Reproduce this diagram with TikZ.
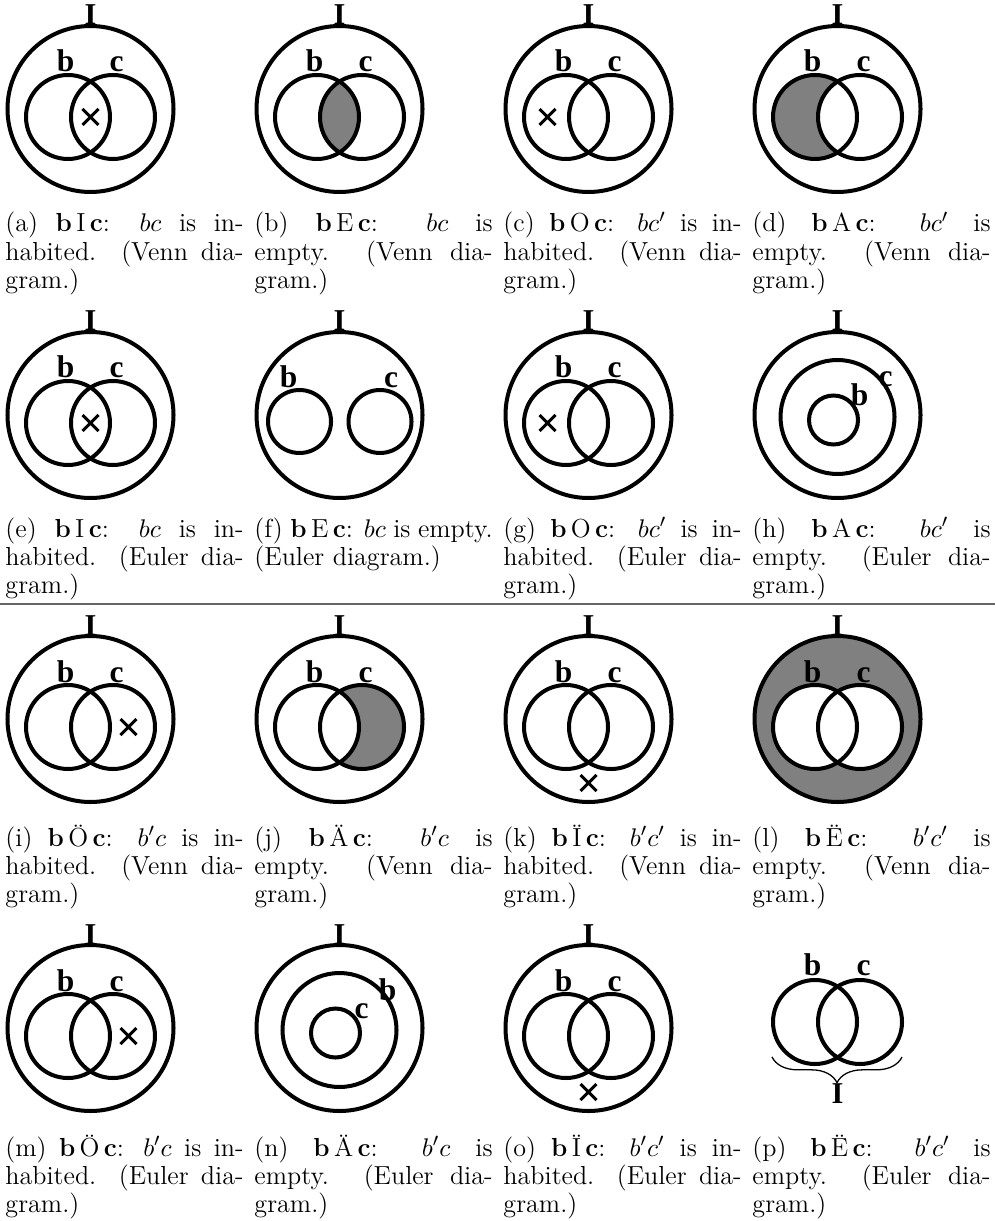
\documentclass[tikz,border=0pt]{standalone}
\usepackage{fontspec}
\usetikzlibrary{decorations.pathreplacing}
\newfontfamily\lblfont{Liberation Serif}
\definecolor{shadegray}{gray}{0.5}
\definecolor{rulegray}{gray}{0.4}
\newcommand\rel[1]{\textbf{b}\,#1\,\textbf{c}}
\newcommand\VOuter[1]{\draw[circ] (0,0) circle (83); \node[ilbl] (#1I) at (0,-84) {I};}
\newcommand\VPair[1]{\draw[circ] (-22.5,8) circle (42); \draw[circ] (22.5,8) circle (42);
  \node[lbl] (#1b) at (-25,-37) {b}; \node[lbl] (#1c) at (26,-37) {c};}
\begin{document}
\begin{tikzpicture}[x=0.4292pt,y=-0.4292pt,
  circ/.style={line width=1.72pt},
  xmark/.style={line width=1.3pt},
  lbl/.style={font=\lblfont\bfseries\fontsize{13.5}{13.5}\selectfont, inner sep=0pt, anchor=base},
  ilbl/.style={font=\lblfont\bfseries\fontsize{13}{13}\selectfont, inner sep=0pt, anchor=base},
  captext/.style={anchor=base west, text width=102.2pt, align=justify, inner sep=0pt, font=\fontsize{11.2}{11.2}\selectfont},
  shaded/.style={fill=shadegray},
  xm/.pic={\draw[xmark] (-8,-8) -- (8,8) (-8,8) -- (8,-8);}
]
\useasboundingbox (0,0) rectangle (995,1221);

% ---------------- Row 1 ----------------
\begin{scope}[shift={(90.5,109)}]
  \VOuter{a}\VPair{a}
  \pic at (0,8) {xm};
\end{scope}
\begin{scope}[shift={(339.5,109)}]
  \begin{scope}\clip (-22.5,8) circle (42); \fill[shaded] (22.5,8) circle (42);\end{scope}
  \VOuter{b}\VPair{b}
\end{scope}
\begin{scope}[shift={(588.5,109)}]
  \VOuter{c}\VPair{c}
  \pic at (-41,8) {xm};
\end{scope}
\begin{scope}[shift={(837.5,109)}]
  \fill[shaded] (-22.5,8) circle (42); \fill[white] (22.5,8) circle (42);
  \VOuter{d}\VPair{d}
\end{scope}
\node[captext] (capa) at (5,232) {(a) \rel{I}: $bc$ is in-\linebreak habited. (Venn dia-\linebreak gram.)};
\node[captext] (capb) at (254,232) {(b) \rel{E}: $bc$ is\linebreak empty. (Venn dia-\linebreak gram.)};
\node[captext] (capc) at (503,232) {(c) \rel{O}: $bc'$ is in-\linebreak habited. (Venn dia-\linebreak gram.)};
\node[captext] (capd) at (752,232) {(d) \rel{A}: $bc'$ is\linebreak empty. (Venn dia-\linebreak gram.)};

% ---------------- Row 2 ----------------
\begin{scope}[shift={(90.5,415)}]
  \VOuter{e}\VPair{e}
  \pic at (0,8) {xm};
\end{scope}
\begin{scope}[shift={(339.5,415)}]
  \VOuter{f}
  \draw[circ] (-40,6.5) circle (31.5); \draw[circ] (40.5,6.5) circle (31.5);
  \node[lbl] (fb) at (-51,-27) {b}; \node[lbl] (fc) at (51.5,-27) {c};
\end{scope}
\begin{scope}[shift={(588.5,415)}]
  \VOuter{g}\VPair{g}
  \pic at (-41,8) {xm};
\end{scope}
\begin{scope}[shift={(837.5,415)}]
  \VOuter{h}
  \draw[circ] (0,2) circle (57); \draw[circ] (-4,5) circle (24.5);
  \node[lbl] (hb) at (22,-10) {b}; \node[lbl] (hc) at (48,-28) {c};
\end{scope}
\node[captext] (cape) at (5,537) {(e) \rel{I}: $bc$ is in-\linebreak habited. (Euler dia-\linebreak gram.)};
\node[captext] (capf) at (254,537) {(f) \rel{E}: $bc$ is empty.\linebreak (Euler diagram.)};
\node[captext] (capg) at (503,537) {(g) \rel{O}: $bc'$ is in-\linebreak habited. (Euler dia-\linebreak gram.)};
\node[captext] (caph) at (752,537) {(h) \rel{A}: $bc'$ is\linebreak empty. (Euler dia-\linebreak gram.)};

\draw[rulegray, line width=0.8pt] (0,604) -- (995,604);

% ---------------- Row 3 ----------------
\begin{scope}[shift={(90.5,719)}]
  \VOuter{i}\VPair{i}
  \pic at (38,8) {xm};
\end{scope}
\begin{scope}[shift={(339.5,719)}]
  \fill[shaded] (22.5,8) circle (42); \fill[white] (-22.5,8) circle (42);
  \VOuter{j}\VPair{j}
\end{scope}
\begin{scope}[shift={(588.5,719)}]
  \VOuter{k}\VPair{k}
  \pic at (0,64) {xm};
\end{scope}
\begin{scope}[shift={(837.5,719)}]
  \fill[shaded] (0,0) circle (83);
  \fill[white] (-22.5,8) circle (42); \fill[white] (22.5,8) circle (42);
  \VOuter{l}\VPair{l}
\end{scope}
\node[captext] (capi) at (5,846) {(i) \rel{Ö}: $b'c$ is in-\linebreak habited. (Venn dia-\linebreak gram.)};
\node[captext] (capj) at (254,846) {(j) \rel{Ä}: $b'c$ is\linebreak empty. (Venn dia-\linebreak gram.)};
\node[captext] (capk) at (503,846) {(k) \rel{Ï}: $b'c'$ is in-\linebreak habited. (Venn dia-\linebreak gram.)};
\node[captext] (capl) at (752,846) {(l) \rel{Ë}: $b'c'$ is\linebreak empty. (Venn dia-\linebreak gram.)};

% ---------------- Row 4 ----------------
\begin{scope}[shift={(90.5,1028)}]
  \VOuter{m}\VPair{m}
  \pic at (38,8) {xm};
\end{scope}
\begin{scope}[shift={(339.5,1028)}]
  \VOuter{n}
  \draw[circ] (0,2) circle (57); \draw[circ] (-4,5) circle (24.5);
  \node[lbl] (nc) at (22,-10) {c}; \node[lbl] (nb) at (48,-28) {b};
\end{scope}
\begin{scope}[shift={(588.5,1028)}]
  \VOuter{o}\VPair{o}
  \pic at (0,64) {xm};
\end{scope}
\begin{scope}[shift={(837.5,1028)}]
  \draw[circ] (-22.5,-6) circle (42); \draw[circ] (22.5,-6) circle (42);
  \node[lbl] (pb) at (-25,-53) {b}; \node[lbl] (pc) at (26,-53) {c};
  \coordinate (pbl) at (-65.5,29); \coordinate (pbr) at (64.5,29);
  \draw[decorate, decoration={brace, mirror, amplitude=11pt}, line width=0.55pt] (pbl) -- (pbr);
  \node[ilbl] (pI) at (0,75) {I};
\end{scope}
\node[captext] (capm) at (5,1156) {(m) \rel{Ö}: $b'c$ is in-\linebreak habited. (Euler dia-\linebreak gram.)};
\node[captext] (capn) at (254,1156) {(n) \rel{Ä}: $b'c$ is\linebreak empty. (Euler dia-\linebreak gram.)};
\node[captext] (capo) at (503,1156) {(o) \rel{Ï}: $b'c'$ is in-\linebreak habited. (Euler dia-\linebreak gram.)};
\node[captext] (capp) at (752,1156) {(p) \rel{Ë}: $b'c'$ is\linebreak empty. (Euler dia-\linebreak gram.)};
\end{tikzpicture}
\end{document}
